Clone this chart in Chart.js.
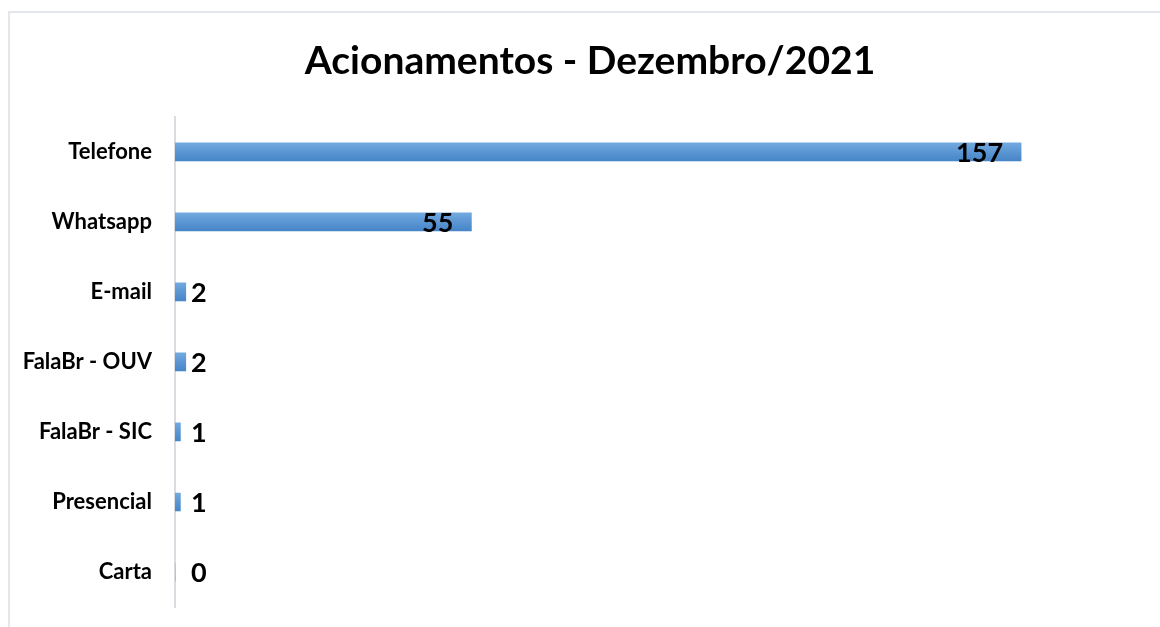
<!DOCTYPE html>
<html>
<head>
<meta charset="utf-8">
<script src="https://cdn.jsdelivr.net/npm/chart.js@4"></script>
<style>
  html, body { margin: 0; padding: 0; background: #fff; overflow: hidden; }
  #frame {
    position: absolute; left: 8px; top: 11px;
    width: 1164px; height: 616px;
    border-top: 2px solid #e3e6ea; border-left: 2px solid #e3e6ea;
  }
  #wrap { position: absolute; left: -2px; top: -2px; width: 1164px; height: 616px; }
</style>
</head>
<body>
<div id="frame"><div id="wrap"><canvas id="barChart"></canvas></div></div>
<script>
const categories = ['Telefone', 'Whatsapp', 'E-mail', 'FalaBr - OUV', 'FalaBr - SIC', 'Presencial', 'Carta'];
const values = [157, 55, 2, 2, 1, 1, 0];
const xMax = 185;

// gradient per bar, lighter on top like the original
function barFill(context) {
    const chart = context.chart;
    if (!chart.chartArea || !chart.scales.y) return '#5b9bd5';
    const y = chart.scales.y.getPixelForValue(context.dataIndex);
    const g = chart.ctx.createLinearGradient(0, y - 9, 0, y + 9);
    g.addColorStop(0, '#72a9df');
    g.addColorStop(1, '#4685c8');
    return g;
}

const valueLabels = {
    id: 'valueLabels',
    afterDatasetsDraw(chart) {
        const ctx = chart.ctx;
        const meta = chart.getDatasetMeta(0);
        ctx.save();
        ctx.font = 'bold 27px Lato';
        ctx.fillStyle = '#000';
        ctx.textBaseline = 'middle';
        meta.data.forEach(function(bar, i) {
            const v = values[i];
            if (v >= 20) {
                ctx.textAlign = 'right';
                ctx.fillText(String(v), bar.x - 18, bar.y + 1);
            } else {
                ctx.textAlign = 'left';
                ctx.fillText(String(v), Math.max(bar.x + 5, 183), bar.y + 1);
            }
        });
        ctx.restore();
    }
};

document.addEventListener('DOMContentLoaded', function() {
    const ctx = document.getElementById('barChart').getContext('2d');

    new Chart(ctx, {
        type: 'bar',
        data: {
            labels: categories,
            datasets: [{
                label: 'Acionamentos',
                data: values,
                backgroundColor: barFill,
                barThickness: 18,
                borderWidth: 0
            }]
        },
        options: {
            indexAxis: 'y',
            responsive: true,
            maintainAspectRatio: false,
            animation: false,
            layout: { padding: { left: 0, right: 0, top: 0, bottom: 20 } },
            plugins: {
                legend: { display: false },
                tooltip: { enabled: false },
                title: {
                    display: true,
                    text: 'Acionamentos - Dezembro/2021',
                    color: '#000',
                    font: { family: 'Lato', size: 39, weight: 'bold' },
                    padding: { top: 27, bottom: 32 }
                }
            },
            scales: {
                x: {
                    display: false,
                    min: 0,
                    max: xMax
                },
                y: {
                    afterFit: function(scale) {
                        scale.width = 167;
                        scale.paddingTop = 0;
                        scale.paddingBottom = 0;
                    },
                    grid: { display: false, drawTicks: false },
                    border: { display: true, color: '#d9dde2', width: 2 },
                    ticks: {
                        color: '#000',
                        padding: 23,
                        font: { family: 'Lato', size: 22, weight: 'bold' }
                    }
                }
            }
        },
        plugins: [valueLabels]
    });
});
</script>
</body>
</html>
